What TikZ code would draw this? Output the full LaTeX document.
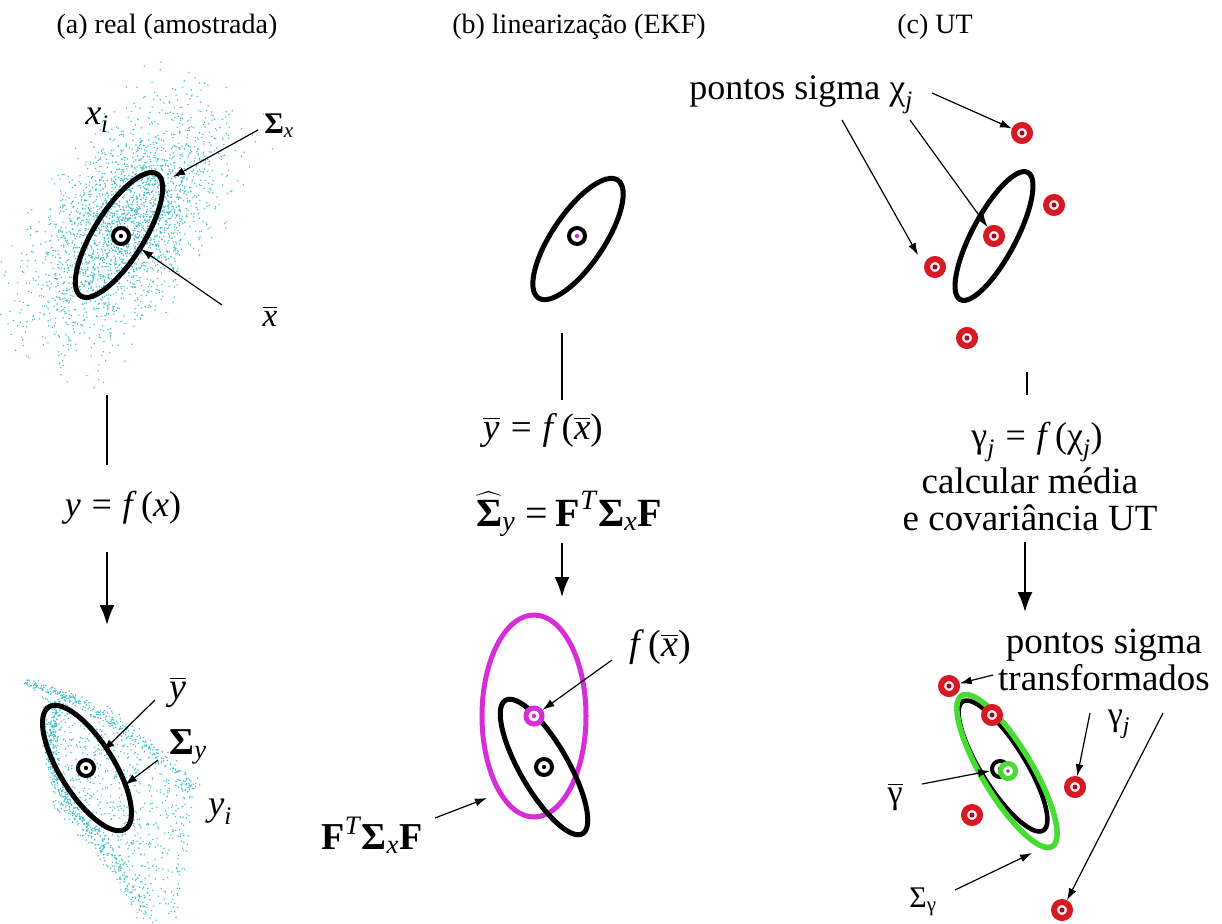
\documentclass[tikz,border=0pt]{standalone}
\usepackage{fontspec}
\setmainfont{Liberation Serif}
\usepackage{amsmath}
\usetikzlibrary{arrows.meta}
\definecolor{dotc}{RGB}{60,190,205}
\definecolor{mag}{RGB}{215,45,215}
\definecolor{redc}{RGB}{215,25,35}
\definecolor{dred}{RGB}{140,20,40}
\definecolor{grn}{RGB}{70,220,50}
\newcommand\fsz[1]{\fontsize{#1}{#1}\selectfont}
\newcommand\ti[1]{\text{\textit{#1}}}
\newcommand\tbf[1]{\text{\textbf{#1}}}
\newcommand\tup[1]{\text{#1}}
\newcommand\hs[1]{\hspace{#1em}}
\newcommand\band[8]{%
  \foreach \i in {1,...,#1}{%
    \pgfmathsetmacro\tq{rnd}%
    \pgfmathsetmacro\px{(1-\tq)^2*#2+2*(1-\tq)*\tq*#4+\tq^2*#6+(rand+rand)*#8}%
    \pgfmathsetmacro\py{(1-\tq)^2*#3+2*(1-\tq)*\tq*#5+\tq^2*#7+(rand+rand)*#8}%
    \fill[dotc] (\px,\py) circle (0.8);
  }}
\tikzset{
  ell/.style={line width=5pt},
  arr/.style={-{Latex[length=12pt,width=8pt]}, line width=1.2pt},
  bigarr/.style={-{Latex[length=20pt,width=15pt]}, line width=2pt},
  vline/.style={line width=2pt},
  bmark/.style={circle, draw=black, line width=4pt, fill=white, minimum size=16pt, inner sep=0pt,
    path picture={\fill[#1] (path picture bounding box.center) circle (2.2pt);}},
  bmark/.default=black,
  mmark/.style={circle, draw=mag, line width=5pt, fill=white, minimum size=16pt, inner sep=0pt,
    path picture={\fill[mag] (path picture bounding box.center) circle (2.2pt);}},
  gmark/.style={circle, draw=grn, line width=5pt, fill=white, minimum size=15pt, inner sep=0pt,
    path picture={\fill[black!70] (path picture bounding box.center) circle (1.8pt);}},
  rmark/.style={circle, draw=redc, line width=6pt, fill=red!8, minimum size=16pt, inner sep=0pt,
    path picture={\fill[dred] (path picture bounding box.center) circle (2.5pt);}},
  lbl/.style={inner sep=0pt, text=black},
}
\begin{document}
\begin{tikzpicture}[x=1pt,y=-1pt]
\fill[white] (0,0) rectangle (1222,923);
\useasboundingbox (0,0) rectangle (1222,923);

% ---------- scatter (a) top ----------
\pgfmathsetseed{11}
\foreach \i in {1,...,2600}{%
  \pgfmathsetmacro\uu{(rand+rand+rand)*64}%
  \pgfmathsetmacro\vv{(rand+rand+rand)*33}%
  \fill[dotc] ({124+\uu*0.57+\vv*0.82},{226-\uu*0.82+\vv*0.57}) circle (0.8);
}
% ---------- scatter (a) bottom ----------
\foreach \i in {1,...,650}{%
  \pgfmathsetmacro\uu{rnd}\pgfmathsetmacro\vv{rnd}%
  \pgfmathsetmacro\px{(1-\uu)*(1-\vv)*40+\uu*(1-\vv)*195+\uu*\vv*178+(1-\uu)*\vv*55}%
  \pgfmathsetmacro\py{(1-\uu)*(1-\vv)*690+\uu*(1-\vv)*790+\uu*\vv*922+(1-\uu)*\vv*815}%
  \fill[dotc] (\px,\py) circle (0.8);
}
\band{90}{25}{682}{50}{690}{76}{700}{2.5}
\band{340}{62}{700}{28}{765}{95}{835}{4}
\band{260}{70}{697}{140}{735}{193}{790}{5}
\band{160}{90}{830}{120}{870}{150}{920}{6}

% ---------- ellipses ----------
\draw[ell] (119,235) ellipse [x radius=72, y radius=25, rotate=58];
\draw[ell] (87,768) ellipse [x radius=72, y radius=27, rotate=-58];
\draw[ell] (578,239) ellipse [x radius=71, y radius=26, rotate=56];
\draw[ell, mag] (534,716) ellipse [x radius=52, y radius=101];
\draw[ell] (544,767) ellipse [x radius=77, y radius=24, rotate=-60];
\draw[ell] (994,236) ellipse [x radius=72, y radius=22, rotate=62];
\draw[line width=4.5pt] (1003,766) ellipse [x radius=76, y radius=22, rotate=-58];
\draw[line width=5.5pt, grn] (1007,771) ellipse [x radius=88, y radius=25, rotate=-59];

% ---------- markers ----------
\node[bmark] (ma1) at (121,236) {};
\node[bmark] (ma2) at (86,768) {};
\node[bmark=mag] (mb1) at (577,236) {};
\node[mmark] (mb2) at (534,716) {};
\node[bmark] (mb3) at (544,767) {};
\node[rmark] (r1) at (1022,133) {};
\node[rmark] (r2) at (1054,205) {};
\node[rmark] (r3) at (994,236) {};
\node[rmark] (r4) at (935,267) {};
\node[rmark] (r5) at (967,338) {};
\node[bmark] (mc1) at (1000,769) {};
\node[gmark] (mc2) at (1008,771) {};
\node[rmark] (s1) at (949,686) {};
\node[rmark] (s2) at (992,715) {};
\node[rmark] (s3) at (1075,787) {};
\node[rmark] (s4) at (972,815) {};
\node[rmark] (s5) at (1062,910) {};

% ---------- titles ----------
\node[lbl, anchor=base] (ta) at (167,34) {\fsz{28}(a) real (amostrada)};
\node[lbl, anchor=base] (tb) at (579,34) {\fsz{28}(b) linearização (EKF)};
\node[lbl, anchor=base] (tc) at (935,34) {\fsz{28}(c) UT};

% ---------- panel (a) labels ----------
\node[lbl] (xi) at (97,120) {\fsz{36}$\ti{x}_{\ti{i}}$};
\node[lbl] (sx) at (279,126) {\fsz{30}$\tbf{Σ}_{\ti{x}}$};
\node[lbl] (xb) at (270,316) {\fsz{33}$\overline{\ti{x}}$};
\node[lbl] (yfx) at (123,508) {\fsz{36}\textit{y}\hs{0.3}=\hs{0.3}\textit{f}\hs{0.12}(\textit{x})};
\node[lbl] (yb) at (178,692) {\fsz{38}$\overline{\ti{y}}$};
\node[lbl] (sy) at (188,747) {\fsz{38}$\tbf{Σ}_{\ti{y}}$};
\node[lbl] (yi) at (220,812) {\fsz{36}$\ti{y}_{\ti{i}}$};

\coordinate (a1s) at (258,130); \coordinate (a1e) at (173,177);
\draw[arr] (a1s) -- (a1e);
\coordinate (a2s) at (222,305); \coordinate (a2e) at (141,249);
\draw[arr] (a2s) -- (a2e);
\coordinate (a3s) at (155,700); \coordinate (a3e) at (103,751);
\draw[arr] (a3s) -- (a3e);
\coordinate (a4s) at (158,760); \coordinate (a4e) at (125,785);
\draw[arr] (a4s) -- (a4e);
\coordinate (la1) at (107,395); \coordinate (la2) at (107,465);
\draw[vline] (la1) -- (la2);
\coordinate (la3) at (107,552); \coordinate (la4) at (107,625);
\draw[bigarr] (la3) -- (la4);

% ---------- panel (b) labels ----------
\node[lbl] (ybfx) at (543,430) {\fsz{37}$\overline{\ti{y}}$\hs{0.3}=\hs{0.3}\textit{f}\hs{0.12}($\overline{\ti{x}}$)};
\node[lbl] (shat) at (569,514) {\fsz{40}$\widehat{\tbf{Σ}}_{\ti{y}}$\hs{0.25}=\hs{0.2}$\tbf{F}^{\ti{T}}\tbf{Σ}_{\ti{x}}\tbf{F}$};
\node[lbl] (fxb) at (660,647) {\fsz{38}\textit{f}\hs{0.12}($\overline{\ti{x}}$)};
\node[lbl] (ftsf) at (372,835) {\fsz{38}$\tbf{F}^{\ti{T}}\tbf{Σ}_{\ti{x}}\tbf{F}$};

\coordinate (lb1) at (562,333); \coordinate (lb2) at (562,400);
\draw[vline] (lb1) -- (lb2);
\coordinate (lb3) at (562,543); \coordinate (lb4) at (562,597);
\draw[bigarr] (lb3) -- (lb4);
\coordinate (b1s) at (612,660);
\draw[arr] (b1s) -- (mb2);
\coordinate (b2s) at (435,818); \coordinate (b2e) at (487,798);
\draw[arr] (b2s) -- (b2e);

% ---------- panel (c) labels ----------
\node[lbl] (ps) at (801,95) {\fsz{36}pontos sigma $\tup{χ}_{\ti{j}}$};
\node[lbl] (gfx) at (1037,442) {\fsz{36}$\tup{γ}_{\ti{j}}$\hs{0.3}=\hs{0.3}\textit{f}\hs{0.12}($\tup{χ}_{\ti{j}}$)};
\node[lbl, align=center, font=\fsz{37}] (calc) at (1030,499) {calcular média\\e covariância UT};
\node[lbl, align=center, font=\fsz{37}] (pst) at (1104,660) {pontos sigma\\transformados};
\node[lbl] (gb) at (895,797) {\fsz{34}$\overline{\tup{γ}}$};
\node[lbl] (gj) at (1119,724) {\fsz{34}$\tup{γ}_{\ti{j}}$};
\node[lbl] (sg) at (923,902) {\fsz{30}$\tup{Σ}_{\tup{γ}}$};

\coordinate (c1s) at (932,93);
\draw[arr] (c1s) -- (r1);
\coordinate (c2s) at (842,120); \coordinate (c2e) at (918,255);
\draw[arr] (c2s) -- (c2e);
\coordinate (c3s) at (910,120);
\draw[arr] (c3s) -- (r3);
\coordinate (lc1) at (1027,372); \coordinate (lc2) at (1027,395);
\draw[vline] (lc1) -- (lc2);
\coordinate (lc3) at (1025,542); \coordinate (lc4) at (1025,612);
\draw[bigarr] (lc3) -- (lc4);
\coordinate (c4s) at (993,675);
\draw[arr] (c4s) -- (s1);
\coordinate (c5s) at (1090,713);
\draw[arr] (c5s) -- (s3);
\coordinate (c6s) at (1163,713);
\draw[arr] (c6s) -- (s5);
\coordinate (c7s) at (922,784);
\draw[arr] (c7s) -- (mc1);
\coordinate (c8s) at (955,890); \coordinate (c8e) at (1032,853);
\draw[arr] (c8s) -- (c8e);
\end{tikzpicture}
\end{document}
